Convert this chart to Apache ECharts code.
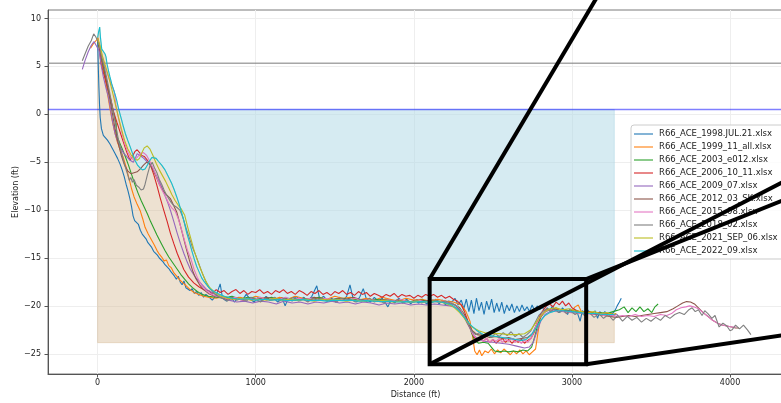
<!DOCTYPE html>
<html>
<head>
<meta charset="utf-8">
<script src="https://cdn.jsdelivr.net/npm/echarts@6/dist/echarts.min.js"></script>
<style>
  html, body { margin: 0; padding: 0; background: #ffffff; }
  #chart { width: 781px; height: 403px; }
</style>
</head>
<body>
<div id="chart"></div>
<script>
// Beach profile surveys, line R66: distance offshore (ft) vs elevation (ft)
const surveyNames = [
  'R66_ACE_1998.JUL.21.xlsx', 'R66_ACE_1999_11_all.xlsx', 'R66_ACE_2003_e012.xlsx',
  'R66_ACE_2006_10_11.xlsx', 'R66_ACE_2009_07.xlsx', 'R66_ACE_2012_03_SK.xlsx',
  'R66_ACE_2015_08.xlsx', 'R66_ACE_2018_02.xlsx', 'R66_ACE_2021_SEP_06.xlsx',
  'R66_ACE_2022_09.xlsx'
];
const surveyColors = ['#1f77b4', '#ff7f0e', '#2ca02c', '#d62728', '#9467bd',
  '#8c564b', '#e377c2', '#7f7f7f', '#bcbd22', '#17becf'];

const survey1998 = [
  [0,7.7],[4,5.0],[8,2.8],[12,1.0],[16,-0.3],[24,-1.5],[36,-2.2],[48,-2.4],[62,-2.7],[78,-3.1],
  [94,-3.6],[110,-4.1],[126,-4.6],[142,-5.2],[155,-5.8],[168,-6.5],[180,-7.3],[192,-8.0],[204,-8.8],
  [214,-9.6],[224,-10.6],[234,-11.1],[246,-11.0],[258,-11.5],[270,-12.1],[282,-12.5],[294,-12.4],
  [306,-13.0],[318,-13.4],[330,-13.3],[342,-13.9],[354,-14.3],[366,-14.1],[378,-14.7],[390,-15.0],
  [402,-14.8],[414,-15.4],[426,-15.7],[438,-15.5],[450,-16.1],[462,-16.4],[474,-16.2],[486,-16.9],
  [498,-17.2],[510,-16.9],[522,-17.5],[534,-17.8],[546,-17.4],[558,-18.1],[570,-17.9],[584,-18.4],
  [598,-18.2],[612,-18.7],[626,-18.5],[640,-18.9],[655,-18.6],[670,-19.1],[685,-18.8],[700,-19.0],
  [725,-19.4],[750,-18.9],[775,-17.7],[790,-19.2],[815,-19.5],[840,-19.0],[865,-19.6],[890,-19.1],
  [915,-19.4],[940,-18.8],[965,-19.3],[990,-19.6],[1015,-19.1],[1040,-19.5],[1065,-19.0],[1090,-19.4],
  [1115,-19.2],[1140,-19.6],[1165,-19.1],[1186,-20.0],[1205,-19.2],[1230,-19.5],[1255,-19.0],
  [1280,-19.4],[1305,-19.1],[1330,-19.5],[1355,-19.0],[1386,-17.9],[1405,-19.3],[1430,-19.0],
  [1455,-19.5],[1480,-19.2],[1505,-19.6],[1530,-19.1],[1555,-19.4],[1575,-19.0],[1596,-17.8],
  [1615,-19.2],[1640,-19.6],[1660,-19.0],[1680,-18.2],[1700,-19.3],[1725,-19.6],[1750,-19.1],
  [1775,-19.5],[1800,-19.2],[1820,-19.7],[1836,-20.1],[1855,-19.4],[1880,-19.7],[1905,-19.2],
  [1930,-19.6],[1955,-19.3],[1980,-19.8],[2005,-19.4],[2030,-19.7],[2055,-19.3],[2080,-19.8],
  [2100,-19.5],[2120,-19.6],[2140,-19.3],[2160,-19.8],[2180,-19.4],[2200,-19.9],[2220,-19.5],
  [2240,-19.6],[2260,-19.2],[2280,-19.9],[2300,-19.4],[2316,-20.3],[2332,-19.3],[2348,-20.6],
  [2364,-19.4],[2380,-20.8],[2396,-19.2],[2412,-20.5],[2428,-19.6],[2444,-20.9],[2460,-19.5],
  [2476,-20.4],[2492,-19.3],[2508,-20.7],[2524,-19.7],[2540,-20.6],[2556,-19.6],[2572,-20.8],
  [2588,-19.9],[2604,-20.5],[2620,-19.8],[2636,-20.7],[2652,-20.0],[2668,-20.6],[2684,-19.9],
  [2700,-20.5],[2716,-20.1],[2732,-20.6],[2748,-19.9],[2764,-20.5],[2780,-20.0],[2796,-20.4],
  [2812,-20.1],[2828,-20.6],[2844,-20.2],[2860,-20.5],[2876,-20.0],[2892,-20.6],[2908,-20.3],
  [2924,-20.7],[2940,-20.2],[2956,-20.5],[2972,-20.9],[2988,-20.3],[3004,-20.6],[3020,-20.4],
  [3036,-20.8],[3052,-21.6],[3066,-20.5],[3082,-20.8],[3098,-20.4],[3114,-20.7],[3130,-20.9],
  [3146,-20.5],[3162,-21.3],[3176,-20.6],[3192,-20.9],[3208,-20.6],[3224,-20.9],[3240,-20.7],
  [3256,-20.8],[3272,-20.5],[3286,-20.0],[3300,-19.6],[3312,-19.2]
];

const survey1999 = [
  [-45,6.9],[-30,7.3],[-15,7.6],[0,7.9],[10,7.1],[20,5.9],[35,4.7],[50,3.4],[65,1.9],[80,0.4],
  [95,-0.9],[110,-2.0],[125,-2.9],[140,-3.6],[160,-4.4],[180,-5.5],[200,-6.8],[215,-7.8],[230,-8.6],
  [250,-9.4],[270,-10.1],[285,-10.9],[300,-11.8],[320,-12.5],[340,-13.1],[360,-13.7],[375,-14.2],
  [390,-14.6],[405,-14.9],[420,-15.3],[435,-15.2],[450,-15.8],[465,-16.0],[480,-16.5],[500,-16.9],
  [520,-17.3],[540,-17.6],[560,-17.9],[585,-18.3],[610,-18.6],[640,-18.8],[670,-19.0],[700,-19.1],
  [750,-19.2],[800,-19.0],[850,-19.3],[900,-19.1],[950,-19.3],[1000,-19.0],[1050,-19.2],[1100,-19.4],
  [1150,-19.1],[1200,-19.3],[1250,-19.0],[1300,-19.2],[1350,-19.4],[1400,-19.1],[1450,-19.3],
  [1500,-19.0],[1550,-19.2],[1600,-19.1],[1650,-19.4],[1700,-19.2],[1750,-19.4],[1800,-19.1],
  [1850,-19.3],[1900,-19.5],[1950,-19.2],[2000,-19.4],[2050,-19.3],[2100,-19.5],[2150,-19.3],
  [2200,-19.5],[2250,-19.6],[2300,-19.9],[2330,-20.6],[2355,-21.6],[2370,-23.0],[2385,-24.7],
  [2400,-25.1],[2415,-24.6],[2430,-25.2],[2450,-24.7],[2470,-24.9],[2490,-24.5],[2510,-25.0],
  [2530,-24.6],[2550,-24.9],[2570,-24.5],[2590,-24.8],[2610,-25.1],[2630,-24.7],[2650,-25.0],
  [2670,-24.6],[2690,-25.0],[2710,-24.7],[2730,-25.1],[2750,-24.8],[2770,-24.5],[2785,-22.8],
  [2800,-21.3],[2820,-20.7],[2840,-20.3],[2870,-20.5],[2900,-20.2],[2930,-20.6],[2960,-20.4],
  [2990,-20.7],[3020,-20.1],[3040,-19.9],[3060,-20.6],[3090,-20.8],[3120,-20.6],[3150,-20.9],
  [3180,-20.7],[3210,-21.0],[3240,-20.8],[3270,-20.9]
];

const survey2003 = [
  [0,7.6],[15,6.6],[30,5.4],[50,3.9],[70,2.3],[90,0.9],[105,-0.1],[117,-1.0],[121,-2.3],[135,-2.8],
  [155,-3.6],[175,-4.4],[195,-5.3],[215,-6.3],[235,-7.3],[255,-8.2],[275,-9.0],[295,-9.7],
  [315,-10.4],[335,-11.2],[355,-11.9],[375,-12.6],[400,-13.4],[425,-14.2],[450,-14.9],[475,-15.5],
  [500,-16.1],[525,-16.7],[550,-17.2],[575,-17.7],[600,-18.1],[630,-18.5],[660,-18.8],[700,-19.0],
  [750,-19.1],[800,-19.2],[850,-19.0],[900,-19.3],[950,-19.1],[1000,-19.2],[1050,-19.3],[1100,-19.1],
  [1150,-19.3],[1200,-19.2],[1250,-19.4],[1300,-19.2],[1350,-19.3],[1400,-19.1],[1450,-19.4],
  [1500,-19.3],[1550,-19.2],[1600,-19.4],[1650,-19.3],[1700,-19.5],[1750,-19.3],[1800,-19.4],
  [1850,-19.6],[1900,-19.4],[1950,-19.5],[2000,-19.6],[2050,-19.4],[2100,-19.6],[2150,-19.5],
  [2200,-19.6],[2250,-19.8],[2290,-20.2],[2320,-20.9],[2345,-21.8],[2365,-22.8],[2385,-23.6],
  [2410,-23.9],[2440,-23.8],[2470,-23.9],[2490,-24.3],[2510,-24.7],[2540,-24.8],[2570,-24.7],
  [2600,-24.8],[2630,-24.7],[2660,-24.8],[2690,-24.6],[2720,-24.7],[2745,-24.3],[2765,-23.2],
  [2785,-21.9],[2805,-21.0],[2830,-20.6],[2860,-20.4],[2900,-20.5],[2940,-20.4],[2980,-20.6],
  [3020,-20.5],[3060,-20.7],[3100,-20.6],[3140,-20.8],[3180,-20.7],[3220,-20.8],[3260,-20.6],
  [3300,-20.4],[3330,-20.1],[3355,-20.7],[3380,-20.2],[3405,-20.6],[3430,-20.1],[3455,-20.6],
  [3480,-20.3],[3505,-20.7],[3525,-20.1],[3545,-19.8]
];

const survey2006 = [
  [0,8.0],[10,7.2],[20,5.4],[35,4.4],[50,3.6],[65,2.6],[82,1.6],[100,0.3],[123,-0.9],[145,-2.0],
  [165,-3.0],[185,-4.0],[205,-4.8],[220,-4.4],[235,-3.9],[250,-3.7],[265,-4.0],[280,-4.3],
  [295,-4.4],[315,-4.8],[334,-5.3],[355,-6.3],[376,-7.5],[397,-8.8],[418,-10.0],[440,-11.2],
  [460,-12.4],[482,-13.5],[503,-14.5],[525,-15.4],[545,-16.2],[575,-17.0],[608,-17.6],[640,-18.0],
  [670,-18.3],[700,-18.4],[725,-18.7],[750,-18.3],[775,-18.6],[800,-18.4],[825,-18.8],[850,-18.5],
  [875,-18.3],[900,-18.7],[925,-18.4],[950,-18.8],[975,-18.5],[1000,-18.6],[1025,-18.3],[1050,-18.7],
  [1075,-18.5],[1100,-18.8],[1125,-18.4],[1150,-18.6],[1175,-18.3],[1200,-18.7],[1225,-18.5],
  [1250,-18.8],[1275,-18.4],[1300,-18.6],[1325,-18.9],[1350,-18.5],[1375,-18.7],[1400,-18.4],
  [1425,-18.8],[1450,-18.6],[1475,-18.9],[1500,-18.5],[1525,-18.7],[1550,-18.4],[1575,-18.8],
  [1600,-18.6],[1625,-18.9],[1650,-18.5],[1675,-18.8],[1700,-18.6],[1725,-19.0],[1750,-18.7],
  [1775,-18.9],[1800,-19.1],[1825,-18.8],[1850,-19.0],[1875,-18.7],[1900,-19.1],[1925,-18.8],
  [1950,-19.0],[1975,-18.9],[2000,-19.2],[2025,-18.9],[2050,-19.1],[2075,-18.8],[2100,-19.0],
  [2125,-18.8],[2150,-19.1],[2175,-18.9],[2200,-19.2],[2225,-19.0],[2250,-19.3],[2275,-19.5],
  [2300,-19.9],[2320,-20.6],[2340,-21.5],[2360,-22.5],[2380,-23.2],[2400,-23.6],[2420,-23.3],
  [2440,-23.7],[2460,-23.4],[2480,-23.8],[2500,-23.5],[2520,-23.9],[2540,-23.6],[2560,-23.4],
  [2580,-23.8],[2600,-23.5],[2620,-23.9],[2640,-23.6],[2660,-23.8],[2680,-23.5],[2700,-23.9],
  [2720,-23.6],[2740,-23.4],[2760,-22.8],[2780,-21.8],[2800,-20.9],[2820,-20.4],[2840,-20.0],
  [2860,-19.8],[2880,-20.1],[2900,-19.6],[2920,-19.9],[2940,-19.5],[2960,-20.0],[2980,-19.7],
  [3000,-20.2],[3020,-20.4],[3050,-20.6],[3080,-20.8],[3110,-20.6],[3140,-20.9],[3170,-20.7],
  [3200,-20.9],[3230,-20.8],[3260,-21.0],[3280,-20.8]
];

const survey2009 = [
  [-97,4.7],[-80,5.6],[-60,6.5],[-40,7.2],[-23,7.6],[-10,7.2],[0,7.4],[10,6.6],[22,5.2],[36,3.9],
  [52,2.8],[68,1.8],[80,0.7],[89,-0.3],[100,-1.2],[110,-2.0],[125,-2.8],[142,-3.4],[162,-4.0],
  [183,-4.4],[205,-4.8],[226,-5.0],[240,-4.5],[250,-4.1],[262,-4.2],[277,-4.4],[292,-4.6],
  [310,-4.9],[328,-5.2],[345,-5.5],[365,-6.2],[387,-6.9],[408,-7.7],[429,-8.6],[445,-9.3],
  [460,-10.0],[482,-11.2],[503,-12.4],[524,-13.5],[545,-14.5],[566,-15.4],[587,-16.2],[618,-17.0],
  [650,-17.6],[690,-18.3],[734,-18.7],[780,-19.1],[830,-19.4],[880,-19.6],[930,-19.5],[980,-19.7],
  [1030,-19.5],[1080,-19.6],[1130,-19.8],[1180,-19.5],[1230,-19.7],[1280,-19.6],[1330,-19.8],
  [1380,-19.6],[1430,-19.7],[1480,-19.5],[1530,-19.7],[1580,-19.6],[1630,-19.8],[1680,-19.6],
  [1730,-19.7],[1780,-19.9],[1830,-19.7],[1880,-19.8],[1930,-19.7],[1980,-19.9],[2030,-19.8],
  [2080,-19.9],[2130,-19.8],[2180,-19.9],[2230,-20.0],[2270,-20.2],[2300,-20.6],[2330,-21.4],
  [2355,-22.3],[2380,-23.1],[2410,-23.5],[2450,-23.7],[2500,-23.8],[2550,-23.9],[2600,-24.0],
  [2650,-24.2],[2700,-24.4],[2730,-24.3],[2755,-23.8],[2780,-22.6],[2805,-21.5],[2830,-20.9],
  [2860,-20.6],[2900,-20.5],[2950,-20.6],[3000,-20.7],[3050,-20.8],[3100,-20.7],[3150,-20.9],
  [3200,-20.8],[3250,-21.0],[3290,-20.9]
];

const survey2012 = [
  [0,7.8],[15,6.8],[30,5.5],[50,4.0],[70,2.3],[90,0.4],[110,-1.5],[130,-3.0],[150,-4.3],
  [170,-5.3],[190,-5.9],[210,-6.2],[230,-6.1],[250,-6.0],[270,-5.7],[290,-5.3],[310,-5.0],
  [330,-5.2],[350,-5.8],[370,-6.5],[390,-7.3],[410,-7.9],[430,-8.3],[460,-8.8],[480,-9.5],
  [500,-10.2],[520,-11.4],[540,-12.7],[560,-14.0],[580,-15.2],[600,-16.3],[620,-17.1],[645,-17.8],
  [670,-18.3],[700,-18.7],[740,-19.0],[770,-19.1],[820,-19.3],[870,-19.2],[920,-19.4],[970,-19.2],
  [1020,-19.3],[1070,-19.1],[1120,-19.3],[1170,-19.2],[1220,-19.4],[1270,-19.2],[1320,-19.3],
  [1370,-19.1],[1420,-19.3],[1470,-19.4],[1520,-19.2],[1570,-19.3],[1620,-19.1],[1670,-19.4],
  [1720,-19.3],[1770,-19.5],[1820,-19.3],[1870,-19.5],[1920,-19.4],[1970,-19.6],[2020,-19.4],
  [2070,-19.5],[2120,-19.4],[2170,-19.6],[2220,-19.7],[2260,-19.9],[2290,-20.3],[2320,-21.0],
  [2345,-21.8],[2370,-22.6],[2400,-23.0],[2440,-23.1],[2480,-23.3],[2520,-23.2],[2560,-23.4],
  [2600,-23.3],[2640,-23.5],[2680,-23.4],[2720,-23.3],[2750,-22.9],[2775,-22.0],[2800,-21.2],
  [2825,-20.7],[2850,-20.4],[2880,-20.3],[2920,-20.5],[2960,-20.4],[3000,-20.6],[3040,-20.7],
  [3080,-20.6],[3120,-20.8],[3160,-20.9],[3200,-21.0],[3240,-21.1],[3280,-21.2],[3320,-21.1],
  [3360,-21.0],[3400,-21.1],[3440,-21.0],[3480,-20.9],[3520,-20.8],[3560,-20.7],[3600,-20.6],
  [3640,-20.3],[3670,-20.0],[3700,-19.7],[3725,-19.55],[3750,-19.6],[3775,-19.8],[3800,-20.2],
  [3830,-20.7],[3860,-21.1],[3890,-21.5],[3920,-21.8],[3950,-22.0],[3980,-22.1],[4010,-22.2],
  [4035,-22.3],[4057,-22.3]
];

const survey2015 = [
  [0,7.9],[15,7.0],[30,6.0],[50,4.8],[70,3.8],[90,3.0],[105,2.4],[115,1.0],[130,-0.3],[150,-1.7],
  [170,-3.0],[190,-3.9],[210,-4.5],[230,-4.8],[250,-4.5],[270,-4.1],[290,-4.0],[310,-4.3],
  [330,-4.9],[350,-5.6],[370,-6.4],[390,-7.3],[410,-8.0],[430,-8.6],[450,-9.3],[470,-9.8],
  [490,-10.1],[510,-10.9],[530,-12.0],[550,-13.2],[570,-14.3],[590,-15.1],[610,-16.2],[630,-17.0],
  [655,-17.8],[680,-18.3],[710,-18.7],[750,-19.0],[790,-19.1],[830,-19.3],[870,-19.1],[910,-19.4],
  [950,-19.2],[990,-19.3],[1030,-19.1],[1070,-19.4],[1110,-19.2],[1150,-19.3],[1190,-19.1],
  [1230,-19.4],[1270,-19.2],[1310,-19.3],[1350,-19.2],[1390,-19.4],[1430,-19.2],[1470,-19.3],
  [1510,-19.5],[1550,-19.3],[1590,-19.4],[1630,-19.2],[1670,-19.5],[1710,-19.3],[1750,-19.4],
  [1790,-19.6],[1830,-19.4],[1870,-19.5],[1910,-19.3],[1950,-19.5],[1990,-19.6],[2030,-19.4],
  [2070,-19.6],[2110,-19.5],[2150,-19.6],[2190,-19.5],[2230,-19.7],[2270,-20.0],[2300,-20.5],
  [2325,-21.3],[2350,-22.2],[2375,-23.0],[2400,-23.5],[2420,-23.3],[2440,-23.7],[2460,-23.4],
  [2480,-23.8],[2500,-23.5],[2520,-23.7],[2540,-23.4],[2560,-23.8],[2580,-23.5],[2600,-23.7],
  [2620,-23.4],[2640,-23.8],[2660,-23.6],[2680,-23.9],[2700,-23.6],[2720,-23.8],[2745,-23.3],
  [2765,-22.4],[2790,-21.4],[2815,-20.8],[2840,-20.5],[2870,-20.4],[2900,-20.6],[2930,-20.4],
  [2960,-20.7],[3000,-20.6],[3040,-20.8],[3080,-20.7],[3120,-20.9],[3160,-20.8],[3200,-21.0],
  [3240,-20.9],[3280,-21.1],[3320,-21.0],[3360,-21.1],[3400,-20.9],[3440,-21.1],[3480,-21.0],
  [3520,-21.1],[3560,-20.9],[3600,-21.0],[3630,-20.8],[3660,-20.4],[3690,-20.2],[3720,-20.1],
  [3745,-20.0],[3770,-20.1],[3800,-20.3],[3830,-20.7],[3860,-21.1],[3890,-21.5],[3920,-21.8],
  [3950,-22.0],[3980,-22.1],[4010,-22.2],[4038,-22.2]
];

const survey2018 = [
  [-97,5.6],[-80,6.3],[-60,7.1],[-40,7.7],[-25,8.4],[-12,8.1],[0,7.9],[12,7.2],[25,6.0],[40,5.1],
  [55,4.0],[70,2.8],[85,1.5],[100,0.2],[115,-1.2],[130,-2.5],[145,-3.6],[160,-4.6],[175,-5.5],
  [190,-6.3],[200,-6.9],[210,-6.6],[220,-7.1],[230,-6.8],[245,-7.4],[260,-7.6],[275,-7.9],
  [290,-7.8],[300,-7.3],[315,-6.3],[330,-5.4],[345,-5.0],[360,-5.6],[375,-6.1],[390,-6.8],
  [405,-7.3],[420,-7.9],[435,-8.4],[450,-8.8],[465,-9.2],[480,-9.5],[500,-9.7],[520,-10.0],
  [540,-10.8],[560,-11.9],[580,-12.9],[600,-13.9],[620,-14.7],[640,-15.6],[660,-16.5],[680,-17.3],
  [700,-18.0],[730,-18.6],[760,-19.0],[790,-19.2],[820,-19.5],[850,-19.1],[880,-19.4],[910,-19.2],
  [940,-19.5],[970,-19.1],[1000,-19.3],[1030,-19.6],[1060,-19.2],[1090,-19.4],[1120,-19.1],
  [1150,-19.5],[1180,-19.2],[1210,-19.4],[1240,-19.1],[1270,-19.5],[1300,-19.3],[1330,-19.6],
  [1360,-19.2],[1390,-19.4],[1420,-19.2],[1450,-19.5],[1480,-19.3],[1510,-19.6],[1540,-19.2],
  [1570,-19.4],[1600,-19.3],[1630,-19.6],[1660,-19.3],[1690,-19.5],[1720,-19.2],[1750,-19.6],
  [1780,-19.4],[1810,-19.7],[1840,-19.4],[1870,-19.6],[1900,-19.3],[1930,-19.7],[1960,-19.5],
  [1990,-19.6],[2020,-19.4],[2050,-19.7],[2080,-19.5],[2110,-19.6],[2140,-19.4],[2170,-19.6],
  [2200,-19.5],[2230,-19.7],[2260,-19.9],[2290,-20.4],[2315,-21.1],[2340,-21.9],[2365,-22.6],
  [2390,-23.0],[2415,-22.8],[2440,-23.2],[2465,-22.9],[2490,-23.3],[2515,-22.9],[2540,-23.2],
  [2565,-22.8],[2590,-23.1],[2615,-22.7],[2640,-23.2],[2665,-22.9],[2690,-23.3],[2715,-23.0],
  [2740,-22.6],[2765,-21.8],[2790,-21.0],[2815,-20.6],[2840,-20.3],[2865,-20.6],[2890,-20.3],
  [2915,-20.7],[2940,-20.4],[2965,-20.8],[2990,-20.5],[3020,-20.9],[3050,-20.6],[3080,-21.0],
  [3110,-20.7],[3140,-21.2],[3170,-20.8],[3200,-21.3],[3230,-20.9],[3260,-21.5],[3290,-21.0],
  [3320,-21.6],[3350,-21.1],[3380,-21.5],[3410,-21.2],[3440,-21.7],[3470,-21.3],[3500,-21.6],
  [3530,-21.2],[3560,-21.5],[3590,-21.0],[3620,-21.3],[3650,-20.9],[3680,-20.7],[3710,-20.9],
  [3740,-20.4],[3760,-20.2],[3780,-20.6],[3800,-20.4],[3823,-21.0],[3840,-20.5],[3860,-20.8],
  [3885,-21.3],[3905,-21.0],[3931,-22.2],[3955,-21.8],[3980,-22.1],[4000,-22.6],[4013,-22.5],
  [4035,-22.0],[4060,-22.4],[4085,-22.0],[4110,-22.5],[4132,-23.0]
];

const survey2021 = [
  [0,8.0],[15,7.2],[30,6.1],[50,5.0],[70,3.9],[90,2.6],[110,1.2],[130,-0.2],[150,-1.5],[170,-2.7],
  [190,-3.6],[210,-4.2],[230,-4.6],[250,-4.8],[265,-4.6],[280,-4.0],[295,-3.5],[313,-3.3],
  [330,-3.6],[350,-4.3],[370,-5.1],[390,-5.8],[410,-6.4],[430,-7.0],[450,-7.7],[470,-8.4],
  [490,-9.0],[510,-9.5],[530,-9.9],[550,-10.5],[570,-11.8],[590,-13.0],[610,-14.2],[630,-15.2],
  [650,-16.1],[670,-16.9],[690,-17.6],[710,-18.1],[740,-18.6],[780,-19.0],[820,-19.2],[870,-19.3],
  [920,-19.2],[970,-19.4],[1020,-19.3],[1070,-19.4],[1120,-19.2],[1170,-19.4],[1220,-19.3],
  [1270,-19.4],[1320,-19.3],[1370,-19.5],[1420,-19.3],[1470,-19.4],[1520,-19.3],[1570,-19.5],
  [1620,-19.4],[1670,-19.5],[1720,-19.4],[1770,-19.5],[1820,-19.4],[1870,-19.6],[1920,-19.5],
  [1970,-19.6],[2020,-19.5],[2070,-19.6],[2120,-19.5],[2170,-19.6],[2210,-19.8],[2250,-20.1],
  [2290,-20.7],[2330,-21.5],[2370,-22.2],[2410,-22.6],[2450,-22.8],[2500,-22.9],[2550,-22.9],
  [2600,-23.0],[2650,-23.0],[2700,-22.9],[2740,-22.5],[2770,-21.8],[2800,-21.1],[2830,-20.6],
  [2860,-20.3],[2900,-20.2],[2940,-20.4],[2980,-20.3],[3020,-20.5],[3060,-20.6],[3100,-20.7],
  [3140,-20.6],[3180,-20.8],[3220,-20.7],[3260,-20.9],[3280,-20.8]
];

const survey2022 = [
  [0,8.0],[6,8.6],[13,9.1],[18,8.0],[26,6.8],[36,6.6],[47,6.3],[53,6.0],[60,5.2],[68,4.6],
  [78,3.9],[89,3.2],[100,2.6],[110,2.1],[120,1.5],[131,0.7],[142,0.0],[152,-0.6],[163,-1.3],
  [175,-2.0],[190,-2.7],[206,-3.4],[221,-4.1],[236,-4.8],[252,-5.3],[268,-5.6],[284,-5.8],
  [300,-5.7],[315,-5.3],[331,-4.8],[344,-4.5],[355,-4.4],[370,-4.6],[384,-4.9],[405,-5.3],
  [426,-5.8],[447,-6.5],[468,-7.2],[485,-7.9],[500,-8.6],[516,-9.4],[532,-10.3],[548,-11.3],
  [564,-12.4],[580,-13.3],[595,-14.2],[611,-15.1],[627,-15.9],[643,-16.5],[659,-17.1],[675,-17.5],
  [690,-17.8],[710,-18.2],[735,-18.5],[760,-18.7],[800,-19.0],[850,-19.2],[900,-19.3],[950,-19.25],
  [1000,-19.4],[1050,-19.3],[1100,-19.4],[1150,-19.35],[1200,-19.45],[1250,-19.4],[1300,-19.35],
  [1350,-19.45],[1400,-19.4],[1450,-19.5],[1500,-19.4],[1550,-19.45],[1600,-19.4],[1650,-19.5],
  [1700,-19.45],[1750,-19.5],[1800,-19.55],[1850,-19.5],[1900,-19.6],[1950,-19.55],[2000,-19.6],
  [2050,-19.55],[2100,-19.6],[2150,-19.55],[2200,-19.7],[2240,-19.9],[2280,-20.4],[2320,-21.2],
  [2360,-22.0],[2400,-22.6],[2440,-23.0],[2480,-23.1],[2520,-23.2],[2560,-23.3],[2600,-23.4],
  [2640,-23.5],[2680,-23.6],[2710,-23.5],[2740,-23.1],[2770,-22.4],[2800,-21.6],[2830,-21.0],
  [2860,-20.7],[2900,-20.5],[2950,-20.5],[3000,-20.6],[3050,-20.7],[3100,-20.8],[3150,-20.8],
  [3200,-20.9],[3250,-20.9],[3268,-20.9]
];

const surveys = [survey1998, survey1999, survey2003, survey2006, survey2009,
  survey2012, survey2015, survey2018, survey2021, survey2022];

// Reference elevations (ft) and the shaded section under the latest survey
const upperLevel = 5.33;
const waterLevel = 0.5;
const sectionFloor = -23.84;
const sectionStart = 0;
const sectionEnd = 3268;

// Axis ranges and tick labels
const xRange = [-314, 4335];
const yRange = [-27.11, 10.89];
const xTicks = [0, 1000, 2000, 3000, 4000];
const yTicks = [-25, -20, -15, -10, -5, 0, 5, 10];

// Detail box around the dredged trench and its leader lines
const detailBox = [[2100, -26.1], [3090, -17.2]];
const detailLeaders = [
  [2100, -17.2, 3251, 14.8],
  [2100, -26.1, 4434, -6.23],
  [3090, -17.2, 4446, -8.24],
  [3090, -26.1, 4446, -22.79]
];

const font = 'DejaVu Sans';
const minus = v => (v < 0 ? '\u2212' + Math.abs(v) : String(v));

const chart = echarts.init(document.getElementById('chart'), null, { renderer: 'canvas' });

const sectionSeries = {
  type: 'custom',
  name: 'section',
  silent: true,
  z: 1,
  data: [[sectionStart, waterLevel]],
  renderItem: (params, api) => {
    const pts = survey2022.filter(p => p[0] >= sectionStart && p[0] <= sectionEnd);
    const sand = pts.map(p => api.coord(p));
    sand.push(api.coord([sectionEnd, sectionFloor]), api.coord([sectionStart, sectionFloor]));
    const water = [api.coord([sectionStart, waterLevel]), api.coord([sectionEnd, waterLevel])];
    for (let i = pts.length - 1; i >= 0; i--) {
      water.push(api.coord([pts[i][0], Math.min(pts[i][1], waterLevel)]));
    }
    return {
      type: 'group',
      children: [
        { type: 'polygon', shape: { points: water },
          style: { fill: 'rgba(173,216,230,0.5)', stroke: 'rgba(173,216,230,0.5)', lineWidth: 1 } },
        { type: 'polygon', shape: { points: sand },
          style: { fill: 'rgba(210,180,140,0.4)', stroke: 'rgba(210,180,140,0.4)', lineWidth: 1 } }
      ]
    };
  }
};

const levelSeries = {
  type: 'custom',
  name: 'levels',
  silent: true,
  z: 1.5,
  data: [[0, upperLevel]],
  renderItem: (params, api) => {
    const a1 = api.coord([xRange[0], upperLevel]), b1 = api.coord([xRange[1], upperLevel]);
    const a2 = api.coord([xRange[0], waterLevel]), b2 = api.coord([xRange[1], waterLevel]);
    return {
      type: 'group',
      children: [
        { type: 'line', shape: { x1: a1[0], y1: a1[1], x2: b1[0], y2: b1[1] },
          style: { stroke: 'rgba(128,128,128,0.7)', lineWidth: 1.5 } },
        { type: 'line', shape: { x1: a2[0], y1: a2[1], x2: b2[0], y2: b2[1] },
          style: { stroke: 'rgba(0,0,255,0.5)', lineWidth: 1.5 } }
      ]
    };
  }
};

const profileSeries = surveys.map((data, i) => ({
  type: 'line',
  name: surveyNames[i],
  data: data,
  showSymbol: false,
  symbol: 'none',
  silent: true,
  z: 2,
  color: surveyColors[i],
  itemStyle: { color: surveyColors[i] },
  lineStyle: { width: 1.1, color: surveyColors[i] }
}));

const detailSeries = {
  type: 'custom',
  name: 'detail',
  silent: true,
  clip: false,
  z: 10,
  data: [[detailBox[0][0], detailBox[0][1]]],
  renderItem: (params, api) => {
    const [x0, y0] = detailBox[0];
    const [x1, y1] = detailBox[1];
    const box = [[x0, y0], [x1, y0], [x1, y1], [x0, y1]].map(p => api.coord(p));
    const children = [{
      type: 'polygon', shape: { points: box },
      style: { fill: null, stroke: '#000', lineWidth: 4, lineJoin: 'miter' }
    }];
    detailLeaders.forEach(s => {
      const a = api.coord([s[0], s[1]]);
      const b = api.coord([s[2], s[3]]);
      children.push({ type: 'line', shape: { x1: a[0], y1: a[1], x2: b[0], y2: b[1] },
        style: { stroke: '#000', lineWidth: 4 } });
    });
    return { type: 'group', children };
  }
};

chart.setOption({
  animation: false,
  backgroundColor: '#ffffff',
  textStyle: { fontFamily: font },
  grid: {
    left: 48, top: 10, right: -2, bottom: 29,
    containLabel: false,
    outerBoundsMode: 'none',
    show: true, borderColor: '#7a7a7a', borderWidth: 1, backgroundColor: 'transparent'
  },
  legend: {
    data: surveyNames,
    orient: 'vertical',
    left: 631, top: 125,
    icon: 'rect',
    itemWidth: 19, itemHeight: 2, itemGap: 3,
    padding: [4, 8, 3, 3],
    backgroundColor: 'rgba(255,255,255,0.8)',
    borderColor: '#cccccc', borderWidth: 1, borderRadius: 3,
    selectedMode: false,
    itemStyle: { opacity: 0.55 },
    textStyle: { fontSize: 8.5, lineHeight: 10, color: '#222', fontFamily: font, padding: [0, 0, 0, 1] }
  },
  xAxis: {
    type: 'value',
    min: xRange[0], max: xRange[1],
    name: 'Distance (ft)', nameLocation: 'middle', nameGap: 17,
    nameMoveOverlap: false,
    nameTextStyle: { fontSize: 8, color: '#222', fontFamily: font },
    axisLine: { show: true, onZero: false, lineStyle: { color: '#555', width: 1 } },
    axisTick: { show: true, length: 3.5, customValues: xTicks, lineStyle: { color: '#555' } },
    axisLabel: { customValues: xTicks, fontSize: 8, color: '#222', margin: 5, fontFamily: font,
      formatter: v => minus(v) },
    splitLine: { show: true, lineStyle: { color: '#eeeeee', width: 1 } }
  },
  yAxis: {
    type: 'value',
    min: yRange[0], max: yRange[1], splitNumber: 8,
    name: 'Elevation (ft)', nameLocation: 'middle', nameGap: 28, nameRotate: 90,
    nameMoveOverlap: false,
    nameTextStyle: { fontSize: 8, color: '#222', fontFamily: font },
    axisLine: { show: true, onZero: false, lineStyle: { color: '#555', width: 1 } },
    axisTick: { show: true, length: 3.5, customValues: yTicks, lineStyle: { color: '#555' } },
    axisLabel: { customValues: yTicks, fontSize: 8, color: '#222', margin: 7, fontFamily: font,
      formatter: v => minus(v) },
    splitLine: { show: true, lineStyle: { color: '#eeeeee', width: 1 } }
  },
  series: [sectionSeries, levelSeries, ...profileSeries, detailSeries]
});
</script>
</body>
</html>
